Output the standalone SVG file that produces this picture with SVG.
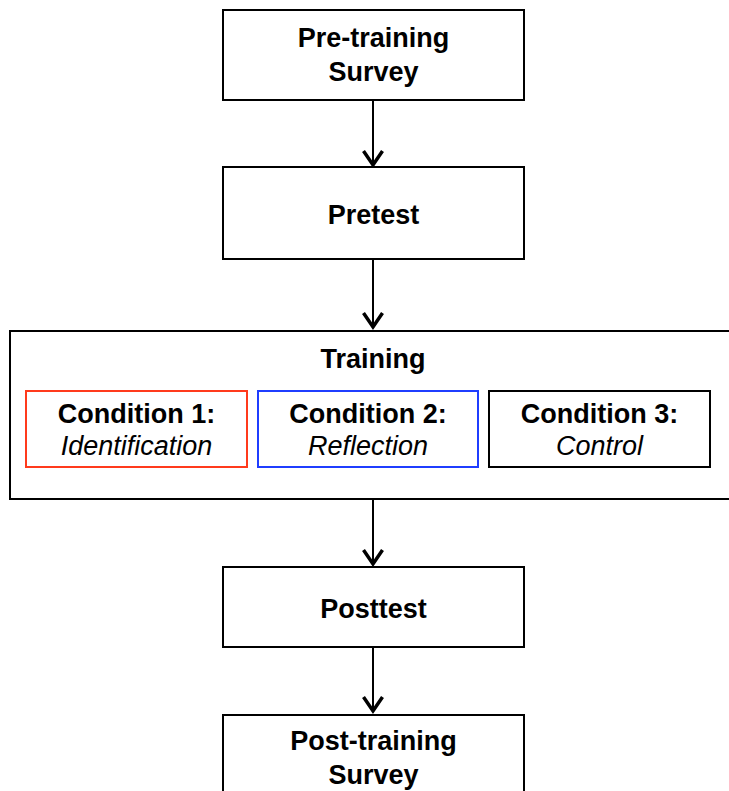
<svg xmlns="http://www.w3.org/2000/svg" width="729" height="791" viewBox="0 0 729 791">
  <style>
    .box { fill: #ffffff; stroke: #000000; stroke-width: 2; }
    .cond1 { fill: #ffffff; stroke: #ff3a1c; stroke-width: 2; }
    .cond2 { fill: #ffffff; stroke: #1f3dff; stroke-width: 2; }
    .label { font-family: "Liberation Sans", Arial, Helvetica, sans-serif; font-size: 27px; fill: #000000; text-anchor: middle; }
    .b { font-weight: bold; }
    .i { font-style: italic; }
    .edge { stroke: #000000; stroke-width: 2; fill: none; marker-end: url(#vhead); }
  </style>
  <defs>
    <!-- open V arrowhead, tip at the end of the line -->
    <marker id="vhead" markerUnits="userSpaceOnUse" markerWidth="22" markerHeight="28" viewBox="-18 -14 22 28" refX="0" refY="0" orient="auto">
      <path d="M -14 -9.5 L 0 0 L -14 9.5" fill="none" stroke="#000000" stroke-width="3.5" stroke-linejoin="miter"/>
    </marker>
  </defs>

  <rect width="729" height="791" fill="#ffffff"/>

  <g id="connectors">
    <line class="edge" x1="373" y1="100" x2="373" y2="165"/>
    <line class="edge" x1="373" y1="259" x2="373" y2="327"/>
    <line class="edge" x1="373" y1="499" x2="373" y2="564"/>
    <line class="edge" x1="373" y1="647" x2="373" y2="711"/>
  </g>

  <g id="pre-survey">
    <rect class="box" x="223" y="10" width="301" height="90"/>
    <text class="label b" x="373.5" y="47">Pre-training</text>
    <text class="label b" x="373.5" y="81">Survey</text>
  </g>

  <g id="pretest">
    <rect class="box" x="223" y="167" width="301" height="92"/>
    <text class="label b" x="373.5" y="224">Pretest</text>
  </g>

  <g id="training">
    <rect class="box" x="10" y="331" width="740" height="168"/>
    <text class="label b" x="373" y="368">Training</text>
  </g>

  <g id="condition-1">
    <rect class="cond1" x="26" y="391" width="221" height="76"/>
    <text class="label b" x="136.5" y="423">Condition 1:</text>
    <text class="label i" x="136.5" y="455">Identification</text>
  </g>

  <g id="condition-2">
    <rect class="cond2" x="258" y="391" width="220" height="76"/>
    <text class="label b" x="368" y="423">Condition 2:</text>
    <text class="label i" x="368" y="455">Reflection</text>
  </g>

  <g id="condition-3">
    <rect class="box" x="489" y="391" width="221" height="76"/>
    <text class="label b" x="599.5" y="423">Condition 3:</text>
    <text class="label i" x="599.5" y="455">Control</text>
  </g>

  <g id="posttest">
    <rect class="box" x="223" y="567" width="301" height="80"/>
    <text class="label b" x="373.5" y="618">Posttest</text>
  </g>

  <g id="post-survey">
    <rect class="box" x="223" y="715" width="301" height="100"/>
    <text class="label b" x="373.5" y="750">Post-training</text>
    <text class="label b" x="373.5" y="784">Survey</text>
  </g>
</svg>
